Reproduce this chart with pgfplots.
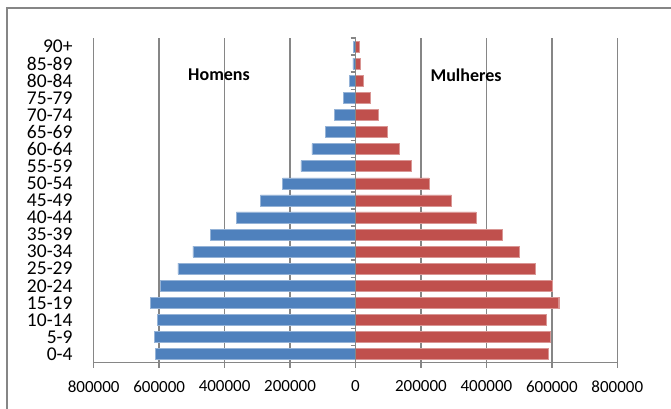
\documentclass[border=0pt]{standalone}
\usepackage{fontspec}
\setmainfont{Carlito}
\usepackage{pgfplots}
\pgfplotsset{compat=1.18}
\definecolor{menblue}{RGB}{79,129,189}
\definecolor{womred}{RGB}{192,80,77}
\definecolor{axgray}{RGB}{134,134,134}

\begin{document}
\begin{tikzpicture}[x=1pt,y=1pt]
\useasboundingbox (0,0) rectangle (671,409);
\draw[axgray, line width=2pt] (7,0) -- (7,401) -- (671,401);

\begin{axis}[
    at={(93.7pt,46.3pt)}, anchor=south west,
    scale only axis,
    width=523.6pt, height=324.7pt,
    xmin=-800000, xmax=800000,
    ymin=-0.5, ymax=18.5,
    axis lines*=left,
    axis line style={axgray, line width=1.5pt},
    xtick={-800000,-600000,-400000,-200000,0,200000,400000,600000,800000},
    xticklabels={800000,600000,400000,200000,0,200000,400000,600000,800000},
    scaled x ticks=false,
    xmajorgrids,
    major grid style={axgray, line width=1.5pt},
    x tick style={axgray, line width=1.5pt},
    tick align=outside,
    major tick length=5pt,
    xticklabel style={font=\fontsize{17}{17}\selectfont, inner sep=0pt, anchor=north, yshift=-13pt},
    ytick={0,...,18},
    yticklabels={0-4,5-9,10-14,15-19,20-24,25-29,30-34,35-39,40-44,45-49,50-54,55-59,60-64,65-69,70-74,75-79,80-84,85-89,90+},
    y tick style={draw=none},
    yticklabel style={font=\fontsize{19.5}{19.5}\selectfont, inner sep=0pt, anchor=east, xshift=-16pt},
    /pgf/number format/assume math mode=true,
    clip=false,
]
% Homens (negativo = lado esquerdo)
\addplot[xbar, bar shift=0pt, bar width=11pt, fill=menblue, draw=menblue!60!white, line width=0.4pt] coordinates {
    (-612000,0) (-614000,1) (-605000,2) (-626000,3) (-597000,4)
    (-543000,5) (-497000,6) (-444000,7) (-364000,8) (-291000,9)
    (-223000,10) (-167000,11) (-133000,12) (-93000,13) (-65000,14)
    (-37000,15) (-19000,16) (-8000,17) (-6000,18)
};
% Mulheres
\addplot[xbar, bar shift=0pt, bar width=11pt, fill=womred, draw=womred!60!white, line width=0.4pt] coordinates {
    (589000,0) (594000,1) (584000,2) (621000,3) (601000,4)
    (549000,5) (501000,6) (448000,7) (368000,8) (293000,9)
    (224000,10) (169000,11) (133000,12) (98000,13) (68000,14)
    (44000,15) (24000,16) (14000,17) (11000,18)
};
\end{axis}

% eixo vertical no zero
\begin{axis}[
    at={(93.7pt,46.3pt)}, anchor=south west,
    scale only axis,
    width=523.6pt, height=324.7pt,
    xmin=-800000, xmax=800000,
    ymin=-0.5, ymax=18.5,
    axis x line=none,
    axis y line*=middle,
    axis line style={axgray, line width=1.5pt},
    ytick={-0.5,0.5,...,18.5},
    yticklabels={},
    tick align=outside,
    major tick length=5pt,
    y tick style={axgray, line width=1.5pt},
]
\end{axis}

\node[font=\bfseries\fontsize{18}{18}\selectfont] at (219,334) {Homens};
\node[font=\bfseries\fontsize{18}{18}\selectfont] at (466,334) {Mulheres};
\end{tikzpicture}
\end{document}
